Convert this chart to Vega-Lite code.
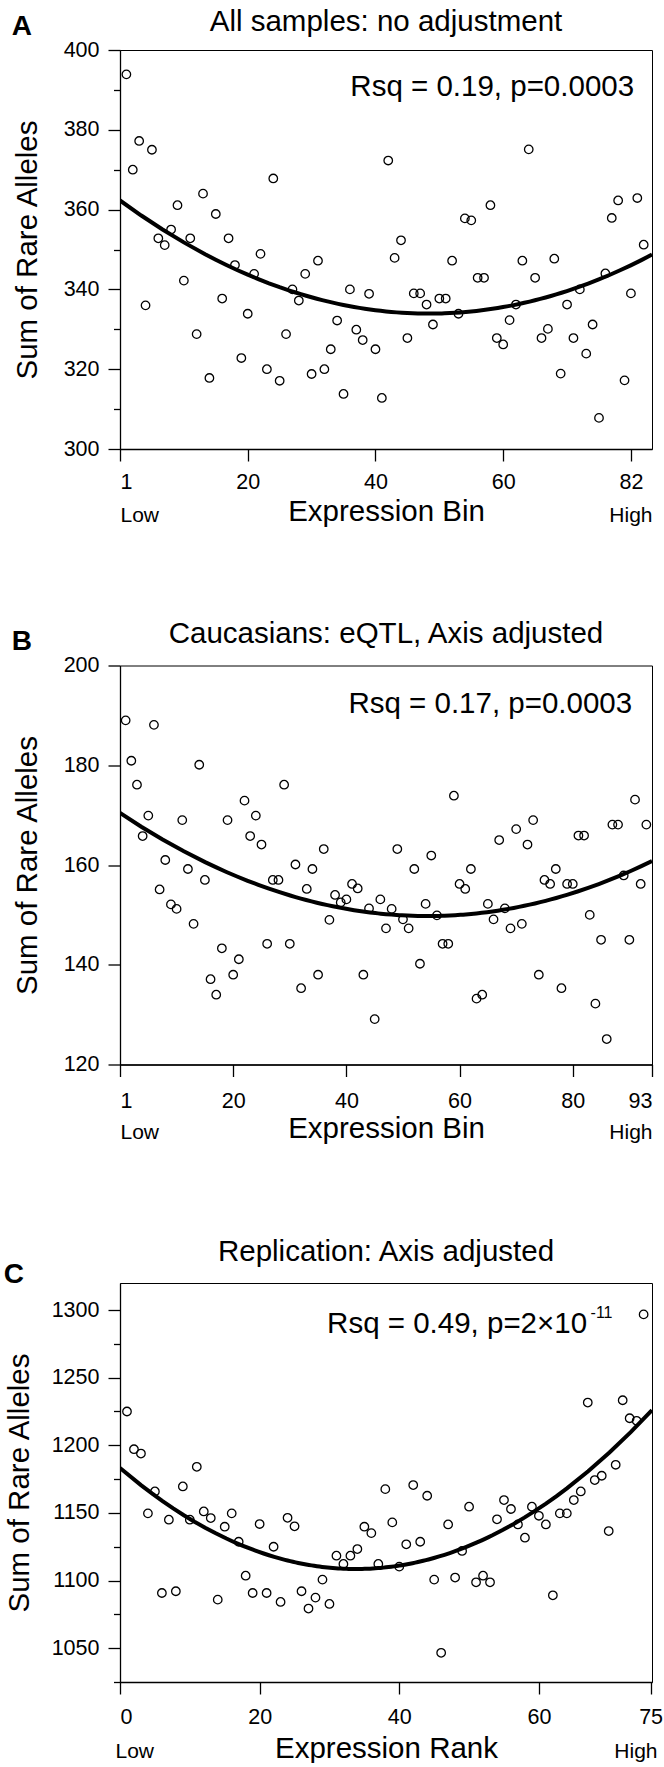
{
  "$schema": "https://vega.github.io/schema/vega-lite/v6.json",
  "background": "white",
  "padding": {"left": 3, "top": 6, "right": 5, "bottom": 0},
  "datasets": {
    "a": [
      {"bin":1,"alleles":393.9},{"bin":2,"alleles":370.0},{"bin":3,"alleles":377.2},{"bin":4,"alleles":336.0},{"bin":5,"alleles":375.0},{"bin":6,"alleles":352.8},{"bin":7,"alleles":351.1},{"bin":8,"alleles":355.0},{"bin":9,"alleles":361.1},{"bin":10,"alleles":342.2},
      {"bin":11,"alleles":352.8},{"bin":12,"alleles":328.8},{"bin":13,"alleles":364.0},{"bin":14,"alleles":317.8},{"bin":15,"alleles":358.9},{"bin":16,"alleles":337.7},{"bin":17,"alleles":352.8},{"bin":18,"alleles":346.1},{"bin":19,"alleles":322.8},{"bin":20,"alleles":333.9},
      {"bin":21,"alleles":343.9},{"bin":22,"alleles":348.9},{"bin":23,"alleles":320.0},{"bin":24,"alleles":367.8},{"bin":25,"alleles":317.1},{"bin":26,"alleles":328.8},{"bin":27,"alleles":340.0},{"bin":28,"alleles":337.2},{"bin":29,"alleles":343.9},{"bin":30,"alleles":318.8},
      {"bin":31,"alleles":347.2},{"bin":32,"alleles":320.0},{"bin":33,"alleles":325.0},{"bin":34,"alleles":332.2},{"bin":35,"alleles":313.8},{"bin":36,"alleles":340.0},{"bin":37,"alleles":329.9},{"bin":38,"alleles":327.3},{"bin":39,"alleles":338.9},{"bin":40,"alleles":325.0},
      {"bin":41,"alleles":312.8},{"bin":42,"alleles":372.3},{"bin":43,"alleles":347.9},{"bin":44,"alleles":352.3},{"bin":45,"alleles":327.8},{"bin":46,"alleles":339.0},{"bin":47,"alleles":339.0},{"bin":48,"alleles":336.2},{"bin":49,"alleles":331.2},{"bin":50,"alleles":337.7},
      {"bin":51,"alleles":337.7},{"bin":52,"alleles":347.2},{"bin":53,"alleles":333.9},{"bin":54,"alleles":357.8},{"bin":55,"alleles":357.3},{"bin":56,"alleles":342.9},{"bin":57,"alleles":342.9},{"bin":58,"alleles":361.1},{"bin":59,"alleles":327.8},{"bin":60,"alleles":326.2},
      {"bin":61,"alleles":332.3},{"bin":62,"alleles":336.2},{"bin":63,"alleles":347.2},{"bin":64,"alleles":375.1},{"bin":65,"alleles":342.9},{"bin":66,"alleles":327.8},{"bin":67,"alleles":330.1},{"bin":68,"alleles":347.7},{"bin":69,"alleles":318.9},{"bin":70,"alleles":336.2},
      {"bin":71,"alleles":327.8},{"bin":72,"alleles":340.0},{"bin":73,"alleles":323.9},{"bin":74,"alleles":331.2},{"bin":75,"alleles":307.8},{"bin":76,"alleles":344.0},{"bin":77,"alleles":357.9},{"bin":78,"alleles":362.3},{"bin":79,"alleles":317.2},{"bin":80,"alleles":339.0},
      {"bin":81,"alleles":362.9},{"bin":82,"alleles":351.2}
    ],
    "b": [
      {"bin":1,"alleles":189.0},{"bin":2,"alleles":180.9},{"bin":3,"alleles":176.1},{"bin":4,"alleles":165.8},{"bin":5,"alleles":169.9},{"bin":6,"alleles":188.1},{"bin":7,"alleles":155.1},{"bin":8,"alleles":161.0},{"bin":9,"alleles":152.1},{"bin":10,"alleles":151.2},
      {"bin":11,"alleles":169.0},{"bin":12,"alleles":159.2},{"bin":13,"alleles":148.2},{"bin":14,"alleles":180.1},{"bin":15,"alleles":157.0},{"bin":16,"alleles":137.1},{"bin":17,"alleles":134.0},{"bin":18,"alleles":143.3},{"bin":19,"alleles":169.0},{"bin":20,"alleles":138.0},
      {"bin":21,"alleles":141.1},{"bin":22,"alleles":172.9},{"bin":23,"alleles":165.8},{"bin":24,"alleles":169.9},{"bin":25,"alleles":164.1},{"bin":26,"alleles":144.2},{"bin":27,"alleles":157.0},{"bin":28,"alleles":157.0},{"bin":29,"alleles":176.1},{"bin":30,"alleles":144.2},
      {"bin":31,"alleles":160.1},{"bin":32,"alleles":135.3},{"bin":33,"alleles":155.2},{"bin":34,"alleles":159.2},{"bin":35,"alleles":138.0},{"bin":36,"alleles":163.2},{"bin":37,"alleles":149.0},{"bin":38,"alleles":154.0},{"bin":39,"alleles":152.5},{"bin":40,"alleles":153.1},
      {"bin":41,"alleles":156.2},{"bin":42,"alleles":155.3},{"bin":43,"alleles":138.0},{"bin":44,"alleles":151.3},{"bin":45,"alleles":129.1},{"bin":46,"alleles":153.1},{"bin":47,"alleles":147.3},{"bin":48,"alleles":151.2},{"bin":49,"alleles":163.2},{"bin":50,"alleles":149.1},
      {"bin":51,"alleles":147.3},{"bin":52,"alleles":159.2},{"bin":53,"alleles":140.2},{"bin":54,"alleles":152.2},{"bin":55,"alleles":161.9},{"bin":56,"alleles":149.9},{"bin":57,"alleles":144.2},{"bin":58,"alleles":144.2},{"bin":59,"alleles":173.9},{"bin":60,"alleles":156.2},
      {"bin":61,"alleles":155.2},{"bin":62,"alleles":159.2},{"bin":63,"alleles":133.2},{"bin":64,"alleles":134.0},{"bin":65,"alleles":152.2},{"bin":66,"alleles":149.1},{"bin":67,"alleles":165.0},{"bin":68,"alleles":151.3},{"bin":69,"alleles":147.3},{"bin":70,"alleles":167.2},
      {"bin":71,"alleles":148.2},{"bin":72,"alleles":164.1},{"bin":73,"alleles":169.0},{"bin":74,"alleles":138.0},{"bin":75,"alleles":157.0},{"bin":76,"alleles":156.2},{"bin":77,"alleles":159.2},{"bin":78,"alleles":135.3},{"bin":79,"alleles":156.2},{"bin":80,"alleles":156.2},
      {"bin":81,"alleles":165.9},{"bin":82,"alleles":165.9},{"bin":83,"alleles":150.0},{"bin":84,"alleles":132.2},{"bin":85,"alleles":145.0},{"bin":86,"alleles":125.1},{"bin":87,"alleles":168.1},{"bin":88,"alleles":168.1},{"bin":89,"alleles":157.9},{"bin":90,"alleles":145.0},
      {"bin":91,"alleles":173.1},{"bin":92,"alleles":156.2},{"bin":93,"alleles":168.1}
    ],
    "c": [
      {"bin":1,"alleles":1225.0},{"bin":2,"alleles":1197.1},{"bin":3,"alleles":1193.9},{"bin":4,"alleles":1149.7},{"bin":5,"alleles":1165.9},{"bin":6,"alleles":1090.8},{"bin":7,"alleles":1145.0},{"bin":8,"alleles":1092.1},{"bin":9,"alleles":1169.6},{"bin":10,"alleles":1145.0},
      {"bin":11,"alleles":1184.1},{"bin":12,"alleles":1151.1},{"bin":13,"alleles":1146.2},{"bin":14,"alleles":1085.9},{"bin":15,"alleles":1139.8},{"bin":16,"alleles":1149.7},{"bin":17,"alleles":1128.7},{"bin":18,"alleles":1103.6},{"bin":19,"alleles":1090.8},{"bin":20,"alleles":1141.8},
      {"bin":21,"alleles":1090.8},{"bin":22,"alleles":1125.0},{"bin":23,"alleles":1084.2},{"bin":24,"alleles":1146.4},{"bin":25,"alleles":1140.1},{"bin":26,"alleles":1092.1},{"bin":27,"alleles":1079.3},{"bin":28,"alleles":1087.4},{"bin":29,"alleles":1100.7},{"bin":30,"alleles":1082.7},
      {"bin":31,"alleles":1118.4},{"bin":32,"alleles":1112.3},{"bin":33,"alleles":1118.4},{"bin":34,"alleles":1123.3},{"bin":35,"alleles":1139.8},{"bin":36,"alleles":1135.1},{"bin":37,"alleles":1112.3},{"bin":38,"alleles":1167.6},{"bin":39,"alleles":1143.0},{"bin":40,"alleles":1110.3},
      {"bin":41,"alleles":1126.8},{"bin":42,"alleles":1170.6},{"bin":43,"alleles":1128.7},{"bin":44,"alleles":1162.7},{"bin":45,"alleles":1100.7},{"bin":46,"alleles":1046.6},{"bin":47,"alleles":1141.5},{"bin":48,"alleles":1102.2},{"bin":49,"alleles":1121.9},{"bin":50,"alleles":1154.6},
      {"bin":51,"alleles":1098.7},{"bin":52,"alleles":1103.6},{"bin":53,"alleles":1098.7},{"bin":54,"alleles":1145.3},{"bin":55,"alleles":1159.5},{"bin":56,"alleles":1152.9},{"bin":57,"alleles":1141.5},{"bin":58,"alleles":1131.7},{"bin":59,"alleles":1154.6},{"bin":60,"alleles":1147.9},
      {"bin":61,"alleles":1141.5},{"bin":62,"alleles":1089.1},{"bin":63,"alleles":1149.7},{"bin":64,"alleles":1149.7},{"bin":65,"alleles":1159.5},{"bin":66,"alleles":1165.9},{"bin":67,"alleles":1231.6},{"bin":68,"alleles":1174.3},{"bin":69,"alleles":1177.5},{"bin":70,"alleles":1136.6},
      {"bin":71,"alleles":1185.6},{"bin":72,"alleles":1233.3},{"bin":73,"alleles":1220.0},{"bin":74,"alleles":1218.1},{"bin":75,"alleles":1296.8}
    ]
  },
  "spacing": 92.5,
  "vconcat": [
    {
      "title": {"text": "A", "anchor": "start", "frame": "bounds", "fontSize": 28, "fontWeight": "bold", "offset": -34},
      "vconcat": [
        {
          "width": 532, "height": 399,
          "title": {"text": "All samples: no adjustment", "frame": "group", "anchor": "middle", "fontSize": 29.5, "fontWeight": "normal", "offset": 1.5},
          "data": {"name": "a"},
          "resolve": {"axis": {"x": "independent"}},
          "layer": [
            {
              "mark": {"type": "point", "filled": false, "size": 72, "strokeWidth": 1.3, "color": "black", "opacity": 1},
              "encoding": {
                "x": {"field": "bin", "type": "quantitative", "scale": {"domain": [0, 83.3], "nice": false, "zero": false},
                  "axis": {"values": [0, 20, 40, 60, 80], "labelExpr": "datum.value == 0 ? '1' : datum.value == 80 ? '82' : datum.label", "title": "Expression Bin", "tickSize": 12, "labelPadding": 10, "titlePadding": 4.5, "labelOverlap": false}},
                "y": {"field": "alleles", "type": "quantitative", "scale": {"domain": [300, 400], "nice": false, "zero": false},
                  "axis": {"values": [300, 310, 320, 330, 340, 350, 360, 370, 380, 390, 400], "labelExpr": "datum.value % 20 == 0 ? datum.label : ''", "tickSize": {"condition": {"test": "datum.value % 20 == 0", "value": 12}, "value": 6.5}, "title": "Sum of Rare Alleles", "titlePadding": 21, "labelPadding": 9, "labelOverlap": false}}
              }
            },
            {
              "transform": [{"regression": "alleles", "on": "bin", "method": "poly", "order": 2, "extent": [0, 83.3]}],
              "mark": {"type": "line", "color": "black", "strokeWidth": 4, "clip": true},
              "encoding": {
                "x": {"field": "bin", "type": "quantitative",
                  "axis": {"orient": "bottom", "values": [0, 83.3], "labelExpr": "datum.value == 0 ? 'Low' : 'High'", "labelFlush": true, "ticks": false, "domain": false, "title": null, "labelFontSize": 21, "labelPadding": 72, "labelBaseline": "alphabetic", "labelOverlap": false}},
                "y": {"field": "alleles", "type": "quantitative",
                  "axis": {"values": [300, 310, 320, 330, 340, 350, 360, 370, 380, 390, 400], "labelExpr": "datum.value % 20 == 0 ? datum.label : ''", "tickSize": {"condition": {"test": "datum.value % 20 == 0", "value": 12}, "value": 6.5}, "title": "Sum of Rare Alleles", "titlePadding": 21, "labelPadding": 9, "labelOverlap": false}}
              }
            },
            {
              "data": {"values": [{"label": "Rsq = 0.19, p=0.0003"}]},
              "mark": {"type": "text", "align": "right", "baseline": "alphabetic", "fontSize": 29.5, "color": "black"},
              "encoding": {
                "x": {"datum": 80.5, "type": "quantitative", "axis": null},
                "y": {"datum": 388.5, "type": "quantitative",
                  "axis": {"values": [300, 310, 320, 330, 340, 350, 360, 370, 380, 390, 400], "labelExpr": "datum.value % 20 == 0 ? datum.label : ''", "tickSize": {"condition": {"test": "datum.value % 20 == 0", "value": 12}, "value": 6.5}, "title": "Sum of Rare Alleles", "titlePadding": 21, "labelPadding": 9, "labelOverlap": false}},
                "text": {"field": "label"}
              }
            }
          ]
        }
      ]
    },
    {
      "title": {"text": "B", "anchor": "start", "frame": "bounds", "fontSize": 28, "fontWeight": "bold", "offset": -37},
      "vconcat": [
        {
          "width": 532, "height": 399,
          "title": {"text": "Caucasians: eQTL, Axis adjusted", "frame": "group", "anchor": "middle", "fontSize": 29.5, "fontWeight": "normal", "offset": 5},
          "data": {"name": "b"},
          "resolve": {"axis": {"x": "independent"}},
          "layer": [
            {
              "mark": {"type": "point", "filled": false, "size": 72, "strokeWidth": 1.3, "color": "black", "opacity": 1},
              "encoding": {
                "x": {"field": "bin", "type": "quantitative", "scale": {"domain": [0, 94], "nice": false, "zero": false},
                  "axis": {"values": [0, 20, 40, 60, 80, 94], "labelExpr": "datum.value == 0 ? '1' : datum.value == 94 ? '93' : datum.label", "title": "Expression Bin", "tickSize": 12, "labelPadding": 13.5, "titlePadding": 3, "labelOverlap": false}},
                "y": {"field": "alleles", "type": "quantitative", "scale": {"domain": [120, 200], "nice": false, "zero": false},
                  "axis": {"values": [120, 140, 160, 180, 200], "tickSize": 12, "title": "Sum of Rare Alleles", "titlePadding": 21, "labelPadding": 9, "labelOverlap": false}}
              }
            },
            {
              "transform": [{"regression": "alleles", "on": "bin", "method": "poly", "order": 2, "extent": [0, 94]}],
              "mark": {"type": "line", "color": "black", "strokeWidth": 4, "clip": true},
              "encoding": {
                "x": {"field": "bin", "type": "quantitative",
                  "axis": {"orient": "bottom", "values": [0, 94], "labelExpr": "datum.value == 0 ? 'Low' : 'High'", "labelFlush": true, "ticks": false, "domain": false, "title": null, "labelFontSize": 21, "labelPadding": 74, "labelBaseline": "alphabetic", "labelOverlap": false}},
                "y": {"field": "alleles", "type": "quantitative",
                  "axis": {"values": [120, 140, 160, 180, 200], "tickSize": 12, "title": "Sum of Rare Alleles", "titlePadding": 21, "labelPadding": 9, "labelOverlap": false}}
              }
            },
            {
              "data": {"values": [{"label": "Rsq = 0.17, p=0.0003"}]},
              "mark": {"type": "text", "align": "right", "baseline": "alphabetic", "fontSize": 29.5, "color": "black"},
              "encoding": {
                "x": {"datum": 90.5, "type": "quantitative", "axis": null},
                "y": {"datum": 190.5, "type": "quantitative",
                  "axis": {"values": [120, 140, 160, 180, 200], "tickSize": 12, "title": "Sum of Rare Alleles", "titlePadding": 21, "labelPadding": 9, "labelOverlap": false}},
                "text": {"field": "label"}
              }
            }
          ]
        }
      ]
    },
    {
      "title": {"text": "C", "anchor": "start", "frame": "bounds", "fontSize": 28, "fontWeight": "bold", "offset": -53},
      "vconcat": [
        {
          "width": 532, "height": 399,
          "title": {"text": "Replication: Axis adjusted", "frame": "group", "anchor": "middle", "fontSize": 29.5, "fontWeight": "normal", "offset": 16},
          "data": {"name": "c"},
          "resolve": {"axis": {"x": "independent"}},
          "layer": [
            {
              "mark": {"type": "point", "filled": false, "size": 72, "strokeWidth": 1.3, "color": "black", "opacity": 1},
              "encoding": {
                "x": {"field": "bin", "type": "quantitative", "scale": {"domain": [0, 76.2], "nice": false, "zero": false},
                  "axis": {"values": [0, 20, 40, 60, 76], "labelExpr": "datum.value == 76 ? '75' : datum.label", "title": "Expression Rank", "tickSize": 12, "labelPadding": 12.5, "titlePadding": 6, "labelOverlap": false}},
                "y": {"field": "alleles", "type": "quantitative", "scale": {"domain": [1025, 1320], "nice": false, "zero": false},
                  "axis": {"values": [1025, 1050, 1075, 1100, 1125, 1150, 1175, 1200, 1225, 1250, 1275, 1300], "labelExpr": "datum.value % 50 == 0 ? replace(datum.label, ',', '') : ''", "tickSize": {"condition": {"test": "datum.value % 50 == 0", "value": 12}, "value": 6.5}, "title": "Sum of Rare Alleles", "titlePadding": 17, "labelPadding": 9, "labelOverlap": false}}
              }
            },
            {
              "transform": [{"regression": "alleles", "on": "bin", "method": "poly", "order": 2, "extent": [0, 76.2]}],
              "mark": {"type": "line", "color": "black", "strokeWidth": 4, "clip": true},
              "encoding": {
                "x": {"field": "bin", "type": "quantitative",
                  "axis": {"orient": "bottom", "values": [0, 76.2], "labelExpr": "datum.value == 0 ? 'Low' : 'High'", "labelFlush": true, "labelFlushOffset": 5, "ticks": false, "domain": false, "title": null, "labelFontSize": 21, "labelPadding": 75, "labelBaseline": "alphabetic", "labelOverlap": false}},
                "y": {"field": "alleles", "type": "quantitative",
                  "axis": {"values": [1025, 1050, 1075, 1100, 1125, 1150, 1175, 1200, 1225, 1250, 1275, 1300], "labelExpr": "datum.value % 50 == 0 ? replace(datum.label, ',', '') : ''", "tickSize": {"condition": {"test": "datum.value % 50 == 0", "value": 12}, "value": 6.5}, "title": "Sum of Rare Alleles", "titlePadding": 17, "labelPadding": 9, "labelOverlap": false}}
              }
            },
            {
              "data": {"values": [{"label": "Rsq = 0.49, p=2×10"}]},
              "mark": {"type": "text", "align": "right", "baseline": "alphabetic", "fontSize": 29.5, "color": "black"},
              "encoding": {
                "x": {"datum": 66.9, "type": "quantitative", "axis": null},
                "y": {"datum": 1283.2, "type": "quantitative",
                  "axis": {"values": [1025, 1050, 1075, 1100, 1125, 1150, 1175, 1200, 1225, 1250, 1275, 1300], "labelExpr": "datum.value % 50 == 0 ? replace(datum.label, ',', '') : ''", "tickSize": {"condition": {"test": "datum.value % 50 == 0", "value": 12}, "value": 6.5}, "title": "Sum of Rare Alleles", "titlePadding": 17, "labelPadding": 9, "labelOverlap": false}},
                "text": {"field": "label"}
              }
            },
            {
              "data": {"values": [{"label": "-11"}]},
              "mark": {"type": "text", "align": "left", "baseline": "alphabetic", "fontSize": 16, "color": "black"},
              "encoding": {
                "x": {"datum": 67.4, "type": "quantitative", "axis": null},
                "y": {"datum": 1294.3, "type": "quantitative",
                  "axis": {"values": [1025, 1050, 1075, 1100, 1125, 1150, 1175, 1200, 1225, 1250, 1275, 1300], "labelExpr": "datum.value % 50 == 0 ? replace(datum.label, ',', '') : ''", "tickSize": {"condition": {"test": "datum.value % 50 == 0", "value": 12}, "value": 6.5}, "title": "Sum of Rare Alleles", "titlePadding": 17, "labelPadding": 9, "labelOverlap": false}},
                "text": {"field": "label"}
              }
            }
          ]
        }
      ]
    }
  ],
  "config": {
    "font": "Liberation Sans, Arial, Helvetica, sans-serif",
    "view": {"stroke": "black", "strokeWidth": 1},
    "axis": {"grid": false, "domainColor": "black", "tickColor": "black", "labelColor": "black", "titleColor": "black", "domainWidth": 1.3, "tickWidth": 1.3, "labelFontSize": 21.5, "titleFontSize": 29.5, "titleFontWeight": "normal"},
    "title": {"color": "black"}
  }
}
